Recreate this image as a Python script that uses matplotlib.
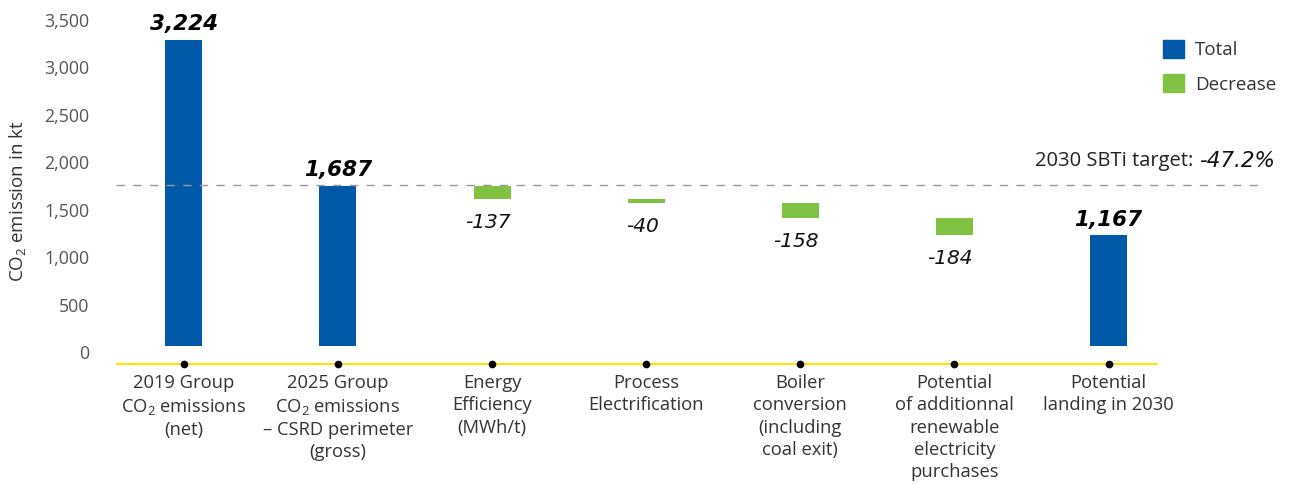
import numpy as np
import matplotlib.pyplot as plt
from matplotlib.patches import Patch

plt.rcParams['font.family'] = ['Open Sans', 'DejaVu Sans']
plt.rcParams['mathtext.fontset'] = 'custom'
plt.rcParams['mathtext.rm'] = 'Open Sans'
plt.rcParams['mathtext.it'] = 'Open Sans:italic'

# data
categories = ['2019 Group\nCO$_2$ emissions\n(net)',
              '2025 Group\nCO$_2$ emissions\n– CSRD perimeter\n(gross)',
              'Energy\nEfficiency\n(MWh/t)',
              'Process\nElectrification',
              'Boiler\nconversion\n(including\ncoal exit)',
              'Potential\nof additionnal\nrenewable\nelectricity\npurchases',
              'Potential\nlanding in 2030']
totals = {0: 3224, 1: 1687, 6: 1167}
decreases = {2: -137, 3: -40, 4: -158, 5: -184}
sbti_target = -0.472
yticks = [0, 500, 1000, 1500, 2000, 2500, 3000, 3500]

blue = '#0059a8'
green = '#80c342'
yellow = '#ffe500'

fig = plt.figure(figsize=(13.03, 4.84), dpi=100)
ax = fig.add_axes([116 / 1303, 114 / 484, 1179 / 1303, 360 / 484])

x = np.arange(len(categories))
w = 0.24

# totals
for i, v in totals.items():
    ax.bar(i, v, width=w, color=blue)
    ax.annotate(f'{v:,}', (i, v), xytext=(0, 4), textcoords='offset points',
                ha='center', va='bottom', fontsize=15.5, fontweight='bold',
                style='italic', family='DejaVu Sans', color='black')

# decreases (waterfall)
running = totals[1]
for i in sorted(decreases):
    d = decreases[i]
    ax.bar(i, -d, bottom=running + d, width=w, color=green)
    running += d
    ax.annotate(f'{d}', (i, running), xytext=(-3, -10), textcoords='offset points',
                ha='center', va='top', fontsize=14.5, style='italic',
                family='DejaVu Sans', color='#111111')

# SBTi target line
target = totals[0] * (1 + sbti_target)
ax.hlines(target, -0.44, 6.97, colors='#999999', linestyles=(0, (6, 6)), linewidth=1)
ax.text(6.55, target + 250, '2030 SBTi target:', ha='right', va='center',
        fontsize=14.5, color='#222222')
ax.text(6.59, target + 250, f'{sbti_target * 100:.1f}%', ha='left', va='center',
        fontsize=15.5, style='italic', family='DejaVu Sans', color='#111111')

# baseline (yellow) with dots
base_y = -190
ax.hlines(base_y, -0.44, 6.32, colors=yellow, linewidth=1.5, zorder=2)
ax.plot(x, [base_y] * len(x), 'o', color='black', markersize=4.5, zorder=3)

ax.set_xlim(-0.44, 7.21)
ax.set_ylim(-250, 3540)

tick_shift = -65
ax.set_yticks([t + tick_shift for t in yticks])
ax.set_yticklabels([f'{t:,}' for t in yticks], fontsize=12.8, color='#555555')
ax.set_xticks(x)
ax.set_xticklabels(categories, fontsize=13.2, color='#333333', linespacing=1.3)
ax.tick_params(axis='both', length=0)
ax.tick_params(axis='y', pad=19)
ax.tick_params(axis='x', pad=3)

for s in ax.spines.values():
    s.set_visible(False)

ax.set_ylabel('CO$_2$ emission in kt', fontsize=13.5, color='#333333')
ax.yaxis.set_label_coords(-0.0745, 0.47)

handles = [Patch(color=blue, label='Total'), Patch(color=green, label='Decrease')]
fig.legend(handles=handles, loc='upper left', bbox_to_anchor=(1146 / 1303, 1 - 23 / 484),
           frameon=False, fontsize=13.5, handlelength=1.1, handleheight=1.1,
           labelspacing=0.8, handletextpad=0.6, labelcolor='#333333')

plt.savefig('out.png', dpi=100)
